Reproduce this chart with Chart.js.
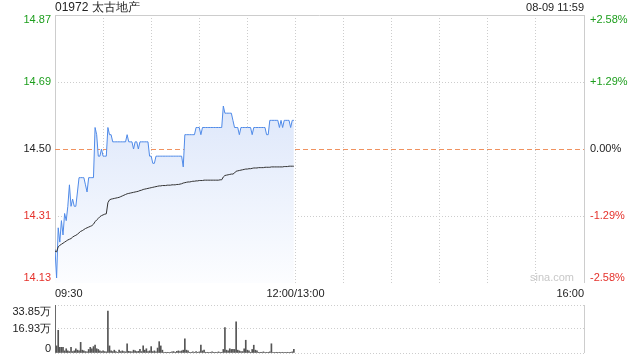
<!DOCTYPE html>
<html>
<head>
<meta charset="utf-8">
<script src="https://cdn.jsdelivr.net/npm/chart.js@4"></script>
<style>
  body { margin: 0; background: #fff; }
  #wrap { position: relative; width: 640px; height: 360px; overflow: hidden; }
  canvas { position: absolute; left: 0; }
  #priceChart { top: 0; }
  #volChart { top: 300px; }
</style>
</head>
<body>
<div id="wrap">
  <canvas id="priceChart" width="640" height="303"></canvas>
  <canvas id="volChart" width="640" height="60"></canvas>
</div>
<script>
// 01972 太古地产, 08-09, one point per minute from 09:30 to 11:59
const title = "01972 太古地产";
const stamp = "08-09 11:59";
const prevClose = 14.50;

const price = [
  14.22, 14.14, 14.28, 14.24, 14.30, 14.26, 14.32, 14.30, 14.34, 14.40,
  14.34, 14.36, 14.34, 14.34, 14.38, 14.42, 14.42, 14.42, 14.42, 14.40,
  14.38, 14.42, 14.42, 14.42, 14.42, 14.56, 14.54, 14.48, 14.48, 14.50,
  14.48, 14.48, 14.48, 14.56, 14.54, 14.54, 14.52, 14.52, 14.52, 14.52,
  14.52, 14.52, 14.52, 14.52, 14.52, 14.54, 14.52, 14.52, 14.52, 14.50,
  14.52, 14.52, 14.50, 14.52, 14.52, 14.52, 14.52, 14.52, 14.52, 14.48,
  14.48, 14.46, 14.46, 14.48, 14.48, 14.48, 14.48, 14.48, 14.48, 14.48,
  14.48, 14.48, 14.48, 14.48, 14.48, 14.48, 14.48, 14.48, 14.48, 14.48,
  14.45, 14.54, 14.54, 14.54, 14.54, 14.54, 14.54, 14.54, 14.56, 14.56,
  14.56, 14.54, 14.56, 14.56, 14.56, 14.56, 14.56, 14.56, 14.56, 14.56,
  14.56, 14.56, 14.56, 14.56, 14.56, 14.62, 14.60, 14.60, 14.60, 14.60,
  14.60, 14.58, 14.56, 14.56, 14.56, 14.54, 14.56, 14.56, 14.56, 14.56,
  14.56, 14.56, 14.56, 14.54, 14.56, 14.56, 14.56, 14.56, 14.56, 14.56,
  14.56, 14.56, 14.54, 14.54, 14.58, 14.58, 14.58, 14.58, 14.58, 14.58,
  14.56, 14.58, 14.56, 14.58, 14.58, 14.58, 14.58, 14.56, 14.58, 14.58
];

const avgPrice = [
  14.215, 14.213, 14.227, 14.231, 14.234, 14.237, 14.240, 14.243, 14.246, 14.248,
  14.250, 14.254, 14.257, 14.259, 14.262, 14.266, 14.270, 14.272, 14.275, 14.278,
  14.280, 14.282, 14.284, 14.286, 14.290, 14.297, 14.302, 14.306, 14.311, 14.314,
  14.316, 14.318, 14.319, 14.350, 14.358, 14.360, 14.361, 14.362, 14.363, 14.364,
  14.365, 14.367, 14.369, 14.371, 14.373, 14.375, 14.376, 14.377, 14.378, 14.379,
  14.380, 14.381, 14.382, 14.384, 14.385, 14.387, 14.388, 14.389, 14.390, 14.391,
  14.392, 14.393, 14.394, 14.395, 14.396, 14.397, 14.397, 14.398, 14.398, 14.398,
  14.399, 14.399, 14.399, 14.400, 14.400, 14.400, 14.401, 14.401, 14.402, 14.403,
  14.405, 14.406, 14.407, 14.408, 14.408, 14.409, 14.410, 14.410, 14.411, 14.411,
  14.412, 14.412, 14.412, 14.413, 14.413, 14.413, 14.413, 14.413, 14.413, 14.413,
  14.413, 14.413, 14.413, 14.414, 14.414, 14.422, 14.426, 14.427, 14.428, 14.429,
  14.430, 14.430, 14.433, 14.438, 14.439, 14.440, 14.441, 14.442, 14.443, 14.444,
  14.444, 14.445, 14.445, 14.446, 14.447, 14.447, 14.447, 14.448, 14.448, 14.448,
  14.448, 14.449, 14.449, 14.449, 14.449, 14.450, 14.450, 14.450, 14.450, 14.450,
  14.450, 14.450, 14.450, 14.451, 14.451, 14.451, 14.452, 14.452, 14.452, 14.452
];

// volume, in 万 shares
const volume = [
  33.85, 5, 16.0, 4, 4, 4, 1.5, 3, 1.5, 1,
  4, 1, 1.5, 3, 2, 1.5, 7.5, 2, 1.5, 1,
  0.8, 2.5, 4, 3, 4.5, 5.5, 3, 2.5, 1.5, 1,
  1.5, 1, 0.8, 29.5, 5, 1.5, 1, 2, 1, 0.5,
  2, 1, 1.5, 1, 0.8, 6.5, 1.2, 1, 0.8, 2,
  1.5, 1, 1.2, 2.5, 1, 5, 2, 3, 1, 1.5,
  4.5, 1, 1.5, 0.8, 3.5, 8, 5, 2, 0.5, 0.5,
  0.5, 0.3, 0.5, 0.8, 1, 0.5, 1.2, 1.5, 1, 1.5,
  2, 10, 2, 1.5, 0.5, 0.5, 0.8, 0.5, 1, 0.5,
  0.8, 5.5, 1.5, 2, 0.5, 0.5, 0.3, 0.5, 0.8, 0.5,
  0.5, 0.3, 0.8, 0.5, 0.5, 2.5, 18, 2, 1.5, 3,
  2.5, 2.5, 2.5, 22, 2, 1.5, 1, 1, 3, 9,
  2, 1.5, 0.5, 2.5, 5.5, 2, 1.5, 0.5, 0.5, 0.5,
  0.8, 0.3, 0.5, 0.5, 0.8, 6.5, 0.5, 0.3, 0.5, 0.3,
  0.5, 0.3, 0.5, 0.3, 0.5, 0.5, 0.3, 0.5, 0.8, 2.5
];

const pctTicks = [2.58, 1.29, 0, -1.29, -2.58];
const priceTickLabels = ["14.87", "14.69", "14.50", "14.31", "14.13"];
const pctTickLabels = ["+2.58%", "+1.29%", "0.00%", "-1.29%", "-2.58%"];

const timeTicks = [0, 150, 330];
const timeTickLabels = ["09:30", "12:00/13:00", "16:00"];

const volTicks = [33.85, 16.93, 0];
const volTickLabels = ["33.85万", "16.93万", "0"];

const FONT = '"Liberation Sans", Arial, sans-serif';
const GREEN = "#1d9e1d";
const RED = "#e5312b";
const GRID = "#cdcdcd";
const BASE_LINE = "rgb(240,146,96)";

const priceTickValues = pctTicks.map(p => prevClose * (1 + p / 100));
const yMin = priceTickValues[priceTickValues.length - 1];
const yMax = priceTickValues[0];

function pctColor(p) {
    if (p > 0) return GREEN;
    if (p < 0) return RED;
    return "#222";
}

// texts round the price panel
const priceText = {
    id: "priceText",
    afterDraw(chart) {
        const ctx = chart.ctx;
        const area = chart.chartArea;
        const y = chart.scales.y;
        const x = chart.scales.x;
        ctx.save();
        ctx.textBaseline = "middle";

        ctx.font = "12px " + FONT;
        ctx.fillStyle = "#222";
        ctx.textAlign = "left";
        ctx.fillText(title, area.left, 8);
        ctx.font = "11px " + FONT;
        ctx.textAlign = "right";
        ctx.fillText(stamp, area.right, 8);

        priceTickValues.forEach((v, i) => {
            let py = y.getPixelForValue(v);
            if (i == 0) py += 5;
            if (i == priceTickValues.length - 1) py -= 5;
            ctx.fillStyle = pctColor(pctTicks[i]);
            ctx.textAlign = "right";
            ctx.fillText(priceTickLabels[i], area.left - 4, py);
            ctx.textAlign = "left";
            ctx.fillText(pctTickLabels[i], area.right + 6, py);
        });

        ctx.fillStyle = "#222";
        timeTicks.forEach((t, i) => {
            const px = x.getPixelForValue(t);
            ctx.textAlign = i == 0 ? "left" : (i == timeTicks.length - 1 ? "right" : "center");
            ctx.fillText(timeTickLabels[i], px, area.bottom + 11);
        });

        ctx.fillStyle = "#c8c8c8";
        ctx.textAlign = "right";
        ctx.fillText("sina.com", area.right - 10, area.bottom - 5);
        ctx.restore();
    }
};

const volText = {
    id: "volText",
    afterDraw(chart) {
        const ctx = chart.ctx;
        const area = chart.chartArea;
        const y = chart.scales.y;
        ctx.save();
        ctx.font = "11px " + FONT;
        ctx.textBaseline = "middle";
        ctx.textAlign = "right";
        ctx.fillStyle = "#222";
        volTicks.forEach((v, i) => {
            let py = y.getPixelForValue(v);
            if (i == 0) py += 7;
            if (i == volTicks.length - 1) py -= 4;
            ctx.fillText(volTickLabels[i], area.left - 4, py);
        });
        ctx.restore();
    }
};

function fillGradient(context) {
    const chart = context.chart;
    const area = chart.chartArea;
    if (!area) return null;
    const g = chart.ctx.createLinearGradient(0, area.top, 0, area.bottom);
    g.addColorStop(0, "rgb(206,220,248)");
    g.addColorStop(1, "rgb(252,253,255)");
    return g;
}

const priceCtx = document.getElementById("priceChart");
new Chart(priceCtx, {
    type: "line",
    data: {
        datasets: [{
            data: price.map((p, i) => ({ x: i, y: p })),
            borderColor: "#4f8ae8",
            borderWidth: 1,
            pointRadius: 0,
            fill: "start",
            backgroundColor: fillGradient,
            tension: 0,
            order: 2
        }, {
            data: avgPrice.map((p, i) => ({ x: i, y: p })),
            borderColor: "#333",
            borderWidth: 1,
            pointRadius: 0,
            fill: false,
            tension: 0,
            order: 1
        }]
    },
    options: {
        responsive: false,
        animation: false,
        devicePixelRatio: 1,
        layout: { padding: { left: 55, right: 56, top: 15, bottom: 20 } },
        plugins: { legend: { display: false }, tooltip: { enabled: false } },
        scales: {
            x: {
                type: "linear",
                min: 0,
                max: 330,
                afterBuildTicks: (scale) => {
                    const t = [];
                    for (let m = 0; m <= 330; m += 30) t.push({ value: m });
                    scale.ticks = t;
                },
                ticks: { display: false },
                grid: {
                    drawTicks: false,
                    color: GRID,
                    lineWidth: 1
                },
                border: {
                    display: false,
                    dash: (c) => (c.tick && (c.tick.value == 0 || c.tick.value == 330)) ? [] : [1, 2]
                }
            },
            y: {
                type: "linear",
                min: yMin,
                max: yMax,
                afterBuildTicks: (scale) => {
                    scale.ticks = priceTickValues.map(v => ({ value: v }));
                },
                ticks: { display: false },
                grid: {
                    drawTicks: false,
                    lineWidth: 1,
                    color: (c) => {
                        if (!c.tick) return GRID;
                        if (Math.abs(c.tick.value - prevClose) < 1e-6) return BASE_LINE;
                        if (c.tick.value == yMin) return "rgba(0,0,0,0)";
                        return GRID;
                    }
                },
                border: {
                    display: false,
                    dash: (c) => {
                        if (!c.tick) return [];
                        if (Math.abs(c.tick.value - prevClose) < 1e-6) return [5, 3];
                        if (c.tick.value == yMax) return [];
                        return [1, 2];
                    }
                }
            }
        }
    },
    plugins: [priceText]
});

const volCtx = document.getElementById("volChart");
new Chart(volCtx, {
    type: "bar",
    data: {
        datasets: [{
            data: volume.map((v, i) => ({ x: i, y: v })),
            backgroundColor: "#555",
            barThickness: 1,
            borderWidth: 0
        }]
    },
    options: {
        responsive: false,
        animation: false,
        devicePixelRatio: 1,
        layout: { padding: { left: 55, right: 56, top: 5, bottom: 7 } },
        plugins: { legend: { display: false }, tooltip: { enabled: false } },
        scales: {
            x: {
                type: "linear",
                min: 0,
                max: 330,
                offset: false,
                afterBuildTicks: (scale) => {
                    scale.ticks = [{ value: 0 }, { value: 330 }];
                },
                ticks: { display: false },
                grid: { drawTicks: false, color: GRID, lineWidth: 1, offset: false },
                border: { display: false }
            },
            y: {
                type: "linear",
                min: 0,
                max: 33.85,
                afterBuildTicks: (scale) => {
                    scale.ticks = volTicks.map(v => ({ value: v }));
                },
                ticks: { display: false },
                grid: { drawTicks: false, color: GRID, lineWidth: 1 },
                border: { display: false, dash: [1, 2] }
            }
        }
    },
    plugins: [volText]
});
</script>
</body>
</html>
